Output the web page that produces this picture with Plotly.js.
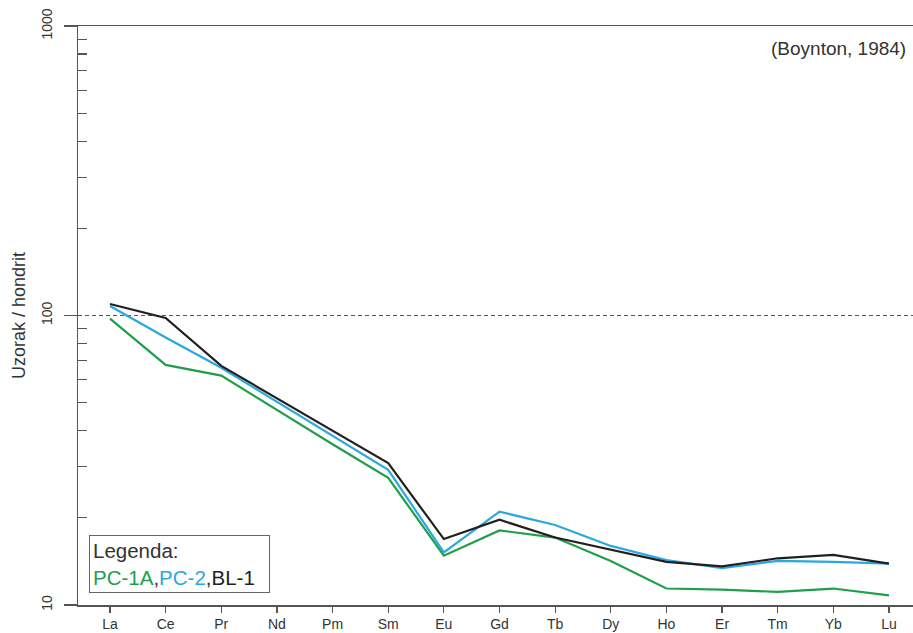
<!DOCTYPE html>
<html>
<head>
<meta charset="utf-8">
<script src="https://cdn.plot.ly/plotly-3.0.1.min.js"></script>
<style>
html,body{margin:0;padding:0;background:#fff;}
#chart{width:913px;height:633px;}
</style>
</head>
<body>
<div id="chart"></div>
<script>
// REE elements (x categories)
const elements = ["La","Ce","Pr","Nd","Pm","Sm","Eu","Gd","Tb","Dy","Ho","Er","Tm","Yb","Lu"];
// Chondrite-normalized values (sample / chondrite)
const pc1a = [97.5, 67.5, 62, 47.1, 35.9, 27.5, 14.8, 18.1, 17.1, 14.2, 11.4, 11.3, 11.1, 11.4, 10.8];
const pc2  = [107.8, 84, 66, 50.3, 38.3, 29.3, 15.2, 21.0, 18.9, 16.0, 14.3, 13.4, 14.2, 14.1, 13.9];
const bl1  = [109.6, 98, 67, 51.7, 39.9, 30.9, 16.9, 19.7, 17.1, 15.5, 14.1, 13.6, 14.5, 14.9, 13.9];
const seriesNames = ["PC-1A","PC-2","BL-1"];
const yMajor = [10, 100, 1000];
const yMinor = [20,30,40,50,60,70,80,90,200,300,400,500,600,700,800,900];
const refLevel = 100;

const xIdx = elements.map((e,i)=>i);
const cGreen = "#1f9e4b", cBlue = "#2aa8e0", cBlack = "#231f20";

const traces = [
  {x:xIdx, y:pc1a, name:seriesNames[0], type:"scatter", mode:"lines", line:{color:cGreen, width:2.2}},
  {x:xIdx, y:pc2,  name:seriesNames[1], type:"scatter", mode:"lines", line:{color:cBlue, width:2.2}},
  {x:xIdx, y:bl1,  name:seriesNames[2], type:"scatter", mode:"lines", line:{color:cBlack, width:2.2}}
];

const axisColor = "#555";
const layout = {
  width:913, height:633,
  margin:{l:78, r:0, t:26, b:28, pad:0},
  paper_bgcolor:"#fff", plot_bgcolor:"#fff",
  showlegend:false,
  font:{family:"Liberation Sans, Arial, sans-serif", color:"#333"},
  xaxis:{
    range:[-0.575, 14.432],
    tickmode:"array", tickvals:xIdx, ticktext:elements,
    ticks:"outside", ticklen:6, tickwidth:1.2, tickcolor:axisColor,
    showline:true, linecolor:axisColor, linewidth:1.5, mirror:true,
    showgrid:false, zeroline:false,
    tickfont:{size:14, color:"#333"}
  },
  yaxis:{
    type:"log", range:[1,3],
    tickmode:"array", tickvals:yMajor, ticktext:yMajor.map(String),
    ticks:"outside", ticklen:13, tickwidth:1.2, tickcolor:axisColor,
    tickangle:-90, tickfont:{size:14, color:"#333"},
    ticklabelstandoff:6,
    minor:{tickmode:"array", tickvals:yMinor, ticks:"inside", ticklen:9, tickwidth:1.2, tickcolor:axisColor, showgrid:false},
    showline:true, linecolor:axisColor, linewidth:1.5,
    showgrid:false, zeroline:false,
    title:{text:"Uzorak / hondrit", font:{size:18, color:"#333"}, standoff:8}
  },
  shapes:[
    {type:"line", xref:"paper", yref:"y", x0:0, x1:1, y0:refLevel, y1:refLevel,
     line:{color:"#555", width:1.2, dash:"4px,3px"}, layer:"below"}
  ],
  annotations:[
    {xref:"paper", yref:"paper", x:0.994, y:0.962, xanchor:"right", yanchor:"middle",
     text:"(Boynton, 1984)", showarrow:false, font:{size:19, color:"#333"}},
    {xref:"paper", yref:"paper", x:0.0132, y:0.02, xanchor:"left", yanchor:"bottom",
     align:"left", showarrow:false,
     text:"Legenda:<br><span style='color:"+cGreen+"'>PC-1A</span>,<span style='color:"+cBlue+"'>PC-2</span>,<span style='color:"+cBlack+"'>BL-1</span>&nbsp;&nbsp;",
     font:{size:20.5, color:"#333"}, bordercolor:"#666", borderwidth:1, borderpad:3, bgcolor:"#fff"}
  ]
};

Plotly.newPlot("chart", traces, layout, {displayModeBar:false, staticPlot:true});
</script>
</body>
</html>
